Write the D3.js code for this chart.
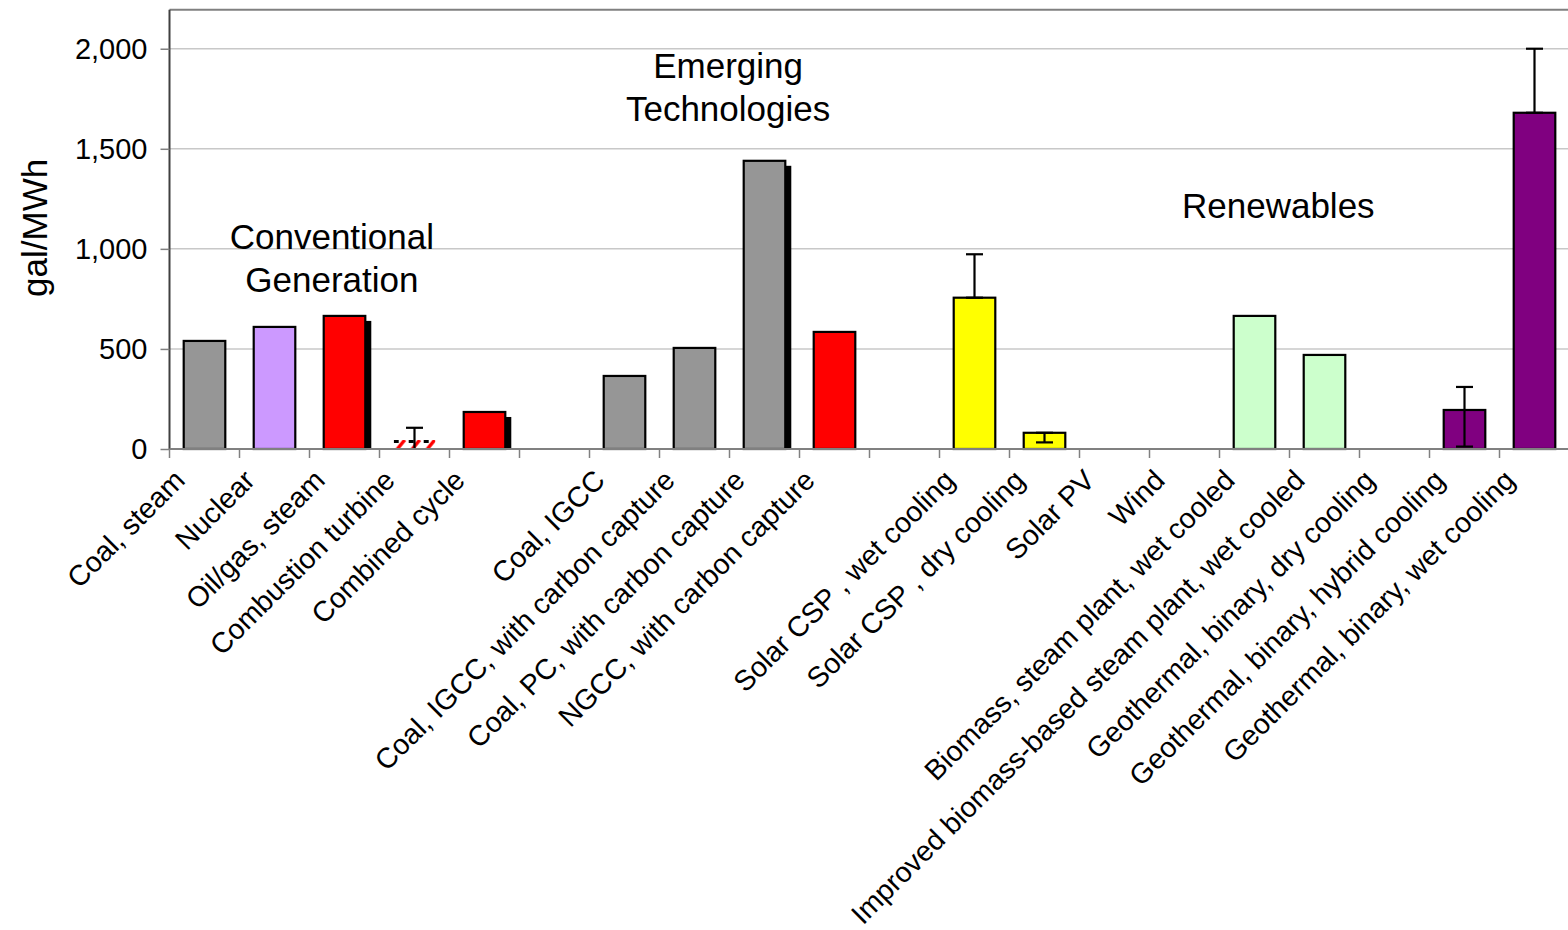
<!DOCTYPE html>
<html>
<head>
<meta charset="utf-8">
<script src="https://cdn.jsdelivr.net/npm/d3@7"></script>
<style>
  html, body { margin: 0; padding: 0; background: #fff; }
  svg { display: block; font-family: "Liberation Sans", Arial, sans-serif; }
</style>
</head>
<body>
<svg id="chart" width="1568" height="930"></svg>
<script>
// ---------------- data ----------------
const categories = [
  "Coal, steam", "Nuclear", "Oil/gas, steam", "Combustion turbine", "Combined cycle",
  "",
  "Coal, IGCC", "Coal, IGCC, with carbon capture", "Coal, PC, with carbon capture", "NGCC, with carbon capture",
  "",
  "Solar CSP , wet cooling", "Solar CSP , dry cooling", "Solar PV", "Wind",
  "Biomass, steam plant, wet cooled", "Improved biomass-based steam plant, wet cooled",
  "Geothermal, binary, dry cooling", "Geothermal, binary, hybrid cooling", "Geothermal, binary, wet cooling"
];
const values = [540, 610, 665, 45, 185, 0, 365, 505, 1440, 585, 0, 756, 81, 0, 0, 665, 470, 0, 195, 1680];
const errLow  = [null, null, null, 0, null, null, null, null, null, null, null, 756, 33, null, null, null, null, null, 12, 1680];
const errHigh = [null, null, null, 106, null, null, null, null, null, null, null, 973, 81, null, null, null, null, null, 310, 2000];
const fuelType = ["coal", "nuclear", "oilgas", "turbine", "oilgas", "", "coal", "coal", "coal", "oilgas", "",
  "solar", "solar", "solar", "wind", "biomass", "biomass", "geothermal", "geothermal", "geothermal"];
const shadowed = ["Oil/gas, steam", "Combined cycle", "Coal, PC, with carbon capture"];
const yTicks = [0, 500, 1000, 1500, 2000];
const groupLabels = [
  { lines: ["Conventional", "Generation"], slot: 2.32, value: 1000 },
  { lines: ["Emerging", "Technologies"], slot: 7.98, value: 1855 },
  { lines: ["Renewables"], slot: 15.84, value: 1155 }
];

// ---------------- setup ----------------
const svg = d3.select("#chart");
const plotLeft = 169.5, plotRight = 1569.5, plotBottom = 449, plotTop = 9.7;

const color = d3.scaleOrdinal()
  .domain(["coal", "nuclear", "oilgas", "solar", "wind", "biomass", "geothermal"])
  .range(["#969696", "#cc99ff", "#ff0000", "#ffff00", "#ffffff", "#ccffcc", "#800080"]);

const x = d3.scaleBand()
  .domain(d3.range(categories.length))
  .range([plotLeft, plotRight])
  .paddingInner(0.406)
  .paddingOuter(0.203);

const y = d3.scaleLinear().domain([0, 2195]).range([plotBottom, plotTop]);

// hatch pattern for combustion turbine
const defs = svg.append("defs");
const ctIndex = fuelType.indexOf("turbine");
const pat = defs.append("pattern")
  .attr("id", "hatch")
  .attr("patternUnits", "userSpaceOnUse")
  .attr("x", x(ctIndex))
  .attr("y", y(values[ctIndex]))
  .attr("width", 15)
  .attr("height", 15);
pat.append("rect").attr("width", 15).attr("height", 15).attr("fill", "#fff");
pat.append("path").attr("d", "M2,11 L11,0").attr("stroke", "#ff0000").attr("stroke-width", 3.5);
pat.append("rect").attr("x", 0).attr("y", 0).attr("width", 5).attr("height", 3).attr("fill", "#000");

// gridlines
svg.append("g").selectAll("line")
  .data(yTicks.filter(d => d > 0))
  .join("line")
  .attr("x1", plotLeft).attr("x2", 1568)
  .attr("y1", d => y(d)).attr("y2", d => y(d))
  .attr("stroke", "#c8c8c8").attr("stroke-width", 1.5);

// top border
svg.append("line")
  .attr("x1", plotLeft).attr("x2", 1568)
  .attr("y1", y(2195)).attr("y2", y(2195))
  .attr("stroke", "#808080").attr("stroke-width", 2);

// shadows
const idx = d3.range(categories.length);
svg.append("g").selectAll("rect")
  .data(idx.filter(i => values[i] > 0 && shadowed.includes(categories[i])))
  .join("rect")
  .attr("x", i => x(i) + 6)
  .attr("y", i => y(values[i]) + 5)
  .attr("width", x.bandwidth())
  .attr("height", i => y(0) - y(values[i]) - 5)
  .attr("fill", "#000");

// bars
svg.append("g").selectAll("rect")
  .data(idx.filter(i => values[i] > 0))
  .join("rect")
  .attr("x", i => x(i))
  .attr("y", i => y(values[i]))
  .attr("width", x.bandwidth())
  .attr("height", i => y(0) - y(values[i]))
  .attr("fill", i => fuelType[i] === "turbine" ? "url(#hatch)" : color(fuelType[i]))
  .attr("stroke", i => fuelType[i] === "turbine" ? "none" : "#000")
  .attr("stroke-width", 2.2);

// error bars
const eb = svg.append("g").attr("stroke", "#000").attr("stroke-width", 2.2);
const errIdx = idx.filter(i => errHigh[i] != null);
const capW = 17;
eb.selectAll("line.v").data(errIdx).join("line")
  .attr("x1", i => x(i) + x.bandwidth() / 2).attr("x2", i => x(i) + x.bandwidth() / 2)
  .attr("y1", i => y(errLow[i])).attr("y2", i => y(errHigh[i]));
eb.selectAll("line.hi").data(errIdx).join("line")
  .attr("x1", i => x(i) + x.bandwidth() / 2 - capW / 2).attr("x2", i => x(i) + x.bandwidth() / 2 + capW / 2)
  .attr("y1", i => y(errHigh[i])).attr("y2", i => y(errHigh[i]));
eb.selectAll("line.lo").data(errIdx.filter(i => errLow[i] > 0)).join("line")
  .attr("x1", i => x(i) + x.bandwidth() / 2 - capW / 2).attr("x2", i => x(i) + x.bandwidth() / 2 + capW / 2)
  .attr("y1", i => y(errLow[i])).attr("y2", i => y(errLow[i]));

// y axis
const yAxis = d3.axisLeft(y).tickValues(yTicks).tickSize(9).tickPadding(13).tickFormat(d3.format(","));
const gy = svg.append("g").attr("transform", `translate(${plotLeft},0)`).call(yAxis);
gy.select(".domain").attr("stroke", "#404040").attr("stroke-width", 2)
  .attr("d", `M0,${plotBottom}V${y(2195)}`);
gy.selectAll(".tick line").attr("stroke", "#808080").attr("stroke-width", 1.5);
gy.selectAll(".tick text").attr("font-size", 29).attr("fill", "#000")
  .attr("font-family", "Liberation Sans, Arial, sans-serif");

// x axis baseline + ticks at slot boundaries
svg.append("line")
  .attr("x1", plotLeft).attr("x2", 1568)
  .attr("y1", plotBottom).attr("y2", plotBottom)
  .attr("stroke", "#808080").attr("stroke-width", 2);
svg.append("g").selectAll("line")
  .data(idx)
  .join("line")
  .attr("x1", i => x(i) - x.step() * x.paddingInner() / 2)
  .attr("x2", i => x(i) - x.step() * x.paddingInner() / 2)
  .attr("y1", plotBottom).attr("y2", plotBottom + 9)
  .attr("stroke", "#808080").attr("stroke-width", 1.5);

// category labels
svg.append("g").selectAll("text")
  .data(idx.filter(i => categories[i] !== ""))
  .join("text")
  .attr("transform", i => `translate(${x(i) + x.bandwidth() / 2 - 25},${plotBottom + 26}) rotate(-45)`)
  .attr("text-anchor", "end")
  .attr("dy", "0.35em")
  .attr("font-size", 28.5)
  .attr("fill", "#000")
  .text(i => categories[i]);

// y axis title
svg.append("text")
  .attr("transform", `translate(47,${y(1105)}) rotate(-90)`)
  .attr("text-anchor", "middle")
  .attr("font-size", 35)
  .attr("fill", "#000")
  .text("gal/MWh");

// group labels
groupLabels.forEach(g => {
  const cx = plotLeft + g.slot * x.step();
  const t = svg.append("text")
    .attr("text-anchor", "middle")
    .attr("font-size", 35)
    .attr("fill", "#000");
  g.lines.forEach((line, j) => {
    t.append("tspan").attr("x", cx).attr("y", y(g.value) + j * 43.5).text(line);
  });
});
</script>
</body>
</html>
